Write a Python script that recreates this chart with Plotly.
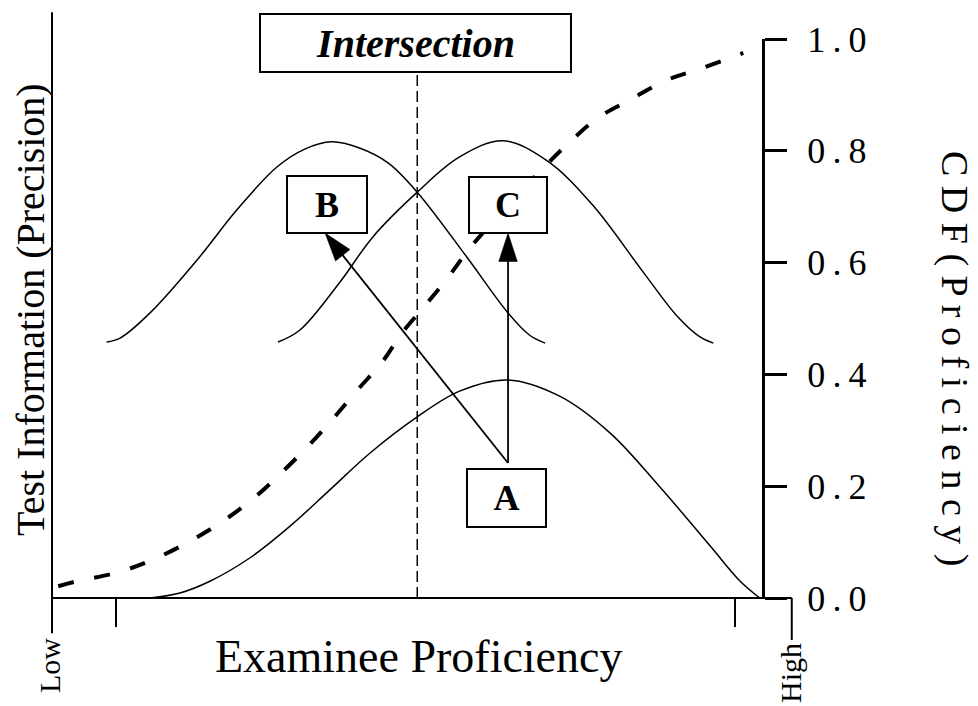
import plotly.graph_objects as go

# proficiency scale: the two small ticks on the bottom axis are -3 and +3
x_low, x_high = -3.62, 3.55          # ends of the bottom axis ("Low" / "High")
x_ticks = [-3, 3]

# information curves (theta, information)
a_theta = [-2.67, -2.38, -2.09, -1.70, -1.31, -0.93, -0.54, -0.08, 0.33, 0.80,
           1.30, 1.79, 2.27, 2.76, 3.05, 3.24]
a_info = [0.000, 0.009, 0.030, 0.072, 0.129, 0.193, 0.259, 0.324, 0.370, 0.390,
          0.361, 0.295, 0.199, 0.093, 0.030, 0.000]

b_theta = [-3.09, -2.96, -2.67, -2.19, -1.83, -1.44, -1.17, -0.91, -0.64, -0.36,
           -0.08, 0.40, 0.80, 1.01, 1.16]
b_info = [0.458, 0.465, 0.510, 0.610, 0.694, 0.771, 0.803, 0.816, 0.805, 0.778,
          0.726, 0.610, 0.510, 0.470, 0.456]

c_theta = [-1.43, -1.22, -0.83, -0.51, -0.08, 0.33, 0.75, 1.18, 1.62, 2.11,
           2.44, 2.66, 2.79]
c_info = [0.458, 0.479, 0.565, 0.646, 0.726, 0.789, 0.818, 0.782, 0.703, 0.583,
          0.504, 0.467, 0.456]

# cumulative distribution of proficiency (dashed, right axis)
cdf_theta = [-3.56, -3.40, -2.96, -2.59, -2.24, -1.92, -1.63, -1.38, -1.12, -0.89,
             -0.66, -0.42, -0.22, 0.00, 0.22, 0.43, 0.79, 1.14, 1.40, 1.67,
             1.98, 2.32, 2.68, 3.08]
cdf_vals = [0.021, 0.029, 0.047, 0.073, 0.106, 0.143, 0.184, 0.227, 0.275, 0.322,
            0.372, 0.422, 0.476, 0.524, 0.574, 0.626, 0.701, 0.769, 0.816, 0.859,
            0.891, 0.925, 0.948, 0.975]

cdf_ticks = [0.0, 0.2, 0.4, 0.6, 0.8, 1.0]
cdf_tick_text = [f"{v:.1f}".replace(".", "\u2009.\u2009") for v in cdf_ticks]

# intersection of the B and C information curves
x_int = -0.08
int_top = 0.939

# boxes: label, theta, information, box size in px
boxes = [("B", -0.955, 0.704, 80, 57),
         ("C", 0.800, 0.703, 78, 56),
         ("A", 0.785, 0.179, 79, 58)]
arrow_tail = (0.80, 0.2415)
arrow_tips = [(-0.974, 0.653), (0.80, 0.653)]

FONT = "Liberation Serif"
W, H = 970, 698      # page body adds an 8px margin around the figure


def px(x):   # page pixel -> paper x
    return (x - 8) / W


def py(y):   # page pixel -> paper y
    return (706 - y) / H


fig = go.Figure()

for xs, ys in [(a_theta, a_info), (b_theta, b_info), (c_theta, c_info)]:
    fig.add_trace(go.Scatter(x=xs, y=ys, mode="lines",
                             line=dict(color="black", width=1.5, shape="spline"),
                             hoverinfo="skip"))

# intersection line
fig.add_trace(go.Scatter(x=[x_int, x_int], y=[0, int_top], mode="lines",
                         line=dict(color="black", width=1.5, dash="11px,5px"),
                         hoverinfo="skip"))

fig.add_trace(go.Scatter(x=cdf_theta, y=cdf_vals, yaxis="y2", mode="lines",
                         line=dict(color="black", width=4, dash="16px,21px",
                                   shape="spline"),
                         hoverinfo="skip"))

# arrows from A to B and C
for tip in arrow_tips:
    fig.add_trace(go.Scatter(
        x=[arrow_tail[0], tip[0]], y=[arrow_tail[1], tip[1]],
        mode="lines+markers",
        line=dict(color="#000000", width=1.8),
        marker=dict(symbol=["circle", "arrow"], size=[0, 30], opacity=1,
                    angleref="previous", color="#000000",
                    line=dict(width=0.5, color="#000000")),
        hoverinfo="skip", cliponaxis=False))

shapes = [
    # left axis
    dict(type="line", x0=x_low, x1=x_low, y0=-0.063, y1=1.048,
         line=dict(color="black", width=2)),
    # bottom axis
    dict(type="line", x0=x_low, x1=x_high, y0=0, y1=0,
         line=dict(color="black", width=2)),
    dict(type="line", x0=x_high, x1=x_high, y0=0, y1=-0.075,
         line=dict(color="black", width=2)),
]
for xt in x_ticks:
    shapes.append(dict(type="line", x0=xt, x1=xt, y0=0, y1=-0.052,
                       line=dict(color="black", width=2)))

txt = dict(showarrow=False, xanchor="center", yanchor="middle")
annotations = [
    dict(text="<b><i>Intersection</i></b>", x=x_int - 0.015, y=0.993,
         xref="x", yref="y", width=309, height=56,
         bgcolor="white", bordercolor="black", borderwidth=2, borderpad=0,
         font=dict(family=FONT, size=40, color="black"), **txt),
    dict(text="Test Information (Precision)", x=px(30), y=py(310),
         xref="paper", yref="paper", textangle=-90,
         font=dict(family=FONT, size=40, color="black"), **txt),
    dict(text="Examinee Proficiency", x=px(418), y=py(656),
         xref="paper", yref="paper",
         font=dict(family=FONT, size=46, color="black"), **txt),
    dict(text="Low", x=px(49), y=py(666), xref="paper", yref="paper",
         textangle=-90, font=dict(family=FONT, size=30, color="black"), **txt),
    dict(text="High", x=px(790), y=py(673), xref="paper", yref="paper",
         textangle=-90, font=dict(family=FONT, size=30, color="black"), **txt),
    dict(text="C D F ( P r o f i c i e n c y )", x=px(955), y=py(358),
         xref="paper", yref="paper", textangle=90,
         font=dict(family=FONT, size=38, color="black"), **txt),
]
for label, bx, by, w, h in boxes:
    annotations.append(dict(
        text=f"<b>{label}</b>", x=bx, y=by, xref="x", yref="y",
        width=w - 2, height=h - 2, bgcolor="white", bordercolor="black",
        borderwidth=2, borderpad=0,
        font=dict(family=FONT, size=36, color="black"), **txt))

fig.update_layout(
    template="none",
    width=W, height=H,
    margin=dict(l=0, r=0, t=0, b=0, pad=0),
    paper_bgcolor="white", plot_bgcolor="rgba(0,0,0,0)",
    showlegend=False, hovermode=False,
    xaxis=dict(visible=False, range=[-4.0467, 5.3552], automargin=False),
    yaxis=dict(visible=False, range=[-0.1932, 1.05546], automargin=False),
    yaxis2=dict(domain=[py(598), py(39)], range=[0, 1], anchor="free",
                position=px(763), side="right", automargin=False,
                showline=True, linewidth=3, linecolor="black",
                ticks="outside", ticklen=22, tickwidth=3, tickcolor="black",
                tickvals=cdf_ticks, ticktext=cdf_tick_text,
                ticklabelstandoff=13,
                tickfont=dict(family=FONT, size=36, color="black"),
                showgrid=False, zeroline=False),
    shapes=shapes,
    annotations=annotations,
)

fig.write_html("out.html")
